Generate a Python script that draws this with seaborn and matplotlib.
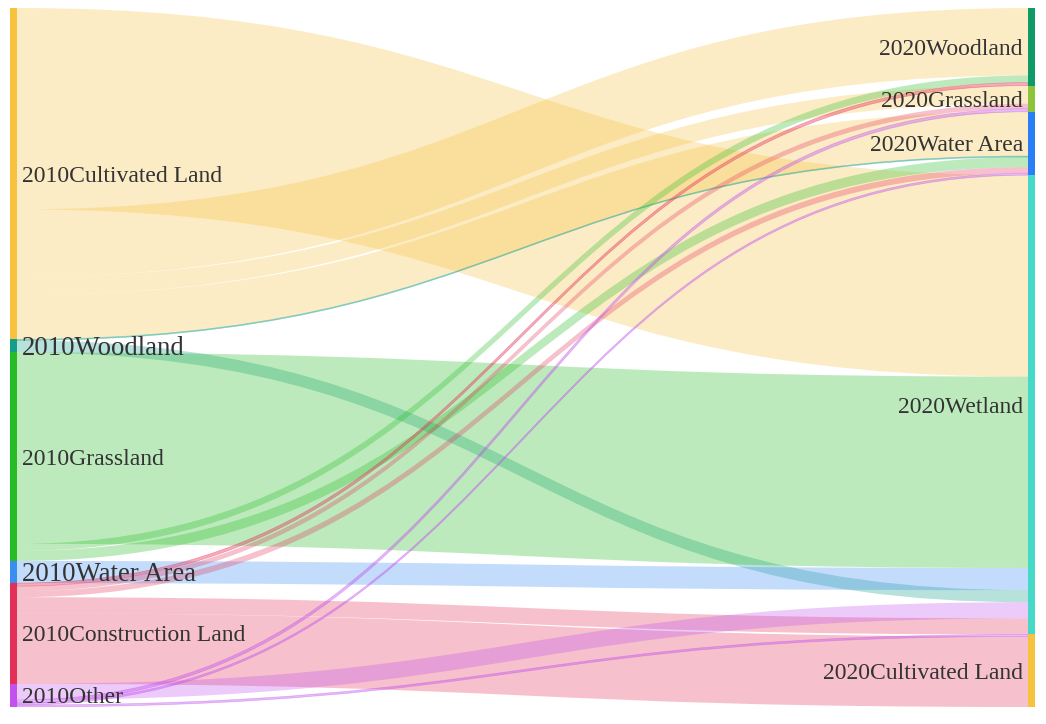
import numpy as np
import matplotlib
matplotlib.use("Agg")
import matplotlib.pyplot as plt
from matplotlib.path import Path
from matplotlib.patches import PathPatch, Rectangle
import seaborn as sns

# nodes
sources = ["2010Cultivated Land", "2010Woodland", "2010Grassland",
           "2010Water Area", "2010Construction Land", "2010Other"]
targets = ["2020Woodland", "2020Grassland", "2020Water Area",
           "2020Wetland", "2020Cultivated Land"]
source_colors = ["#F8C23F", "#129E88", "#26BC26", "#3A8EF2", "#E43058", "#C251EE"]
target_colors = ["#109A68", "#8CC43C", "#2B7FF6", "#46D9C7", "#F6C33F"]
source_fontsize = [17, 19.3, 17, 19.3, 17, 17]

# links, listed in the order they leave each 2010 node (top to bottom)
link_src = [0, 0, 0, 0, 1, 1, 2, 2, 2, 3, 4, 4, 4, 4, 4, 5, 5, 5, 5]
link_tgt = [3, 0, 1, 2, 2, 3, 3, 0, 2, 3, 0, 1, 2, 3, 4, 3, 1, 2, 4]
link_val = [200, 67, 18, 44, 1, 12, 190, 7, 10, 22, 3, 5, 6, 16, 70, 16, 3, 2, 2]

# order in which links arrive at each 2020 node (source index, top to bottom)
target_order = [[0, 2, 4], [0, 4, 5], [0, 1, 2, 4, 5], [0, 2, 3, 1, 5, 4], [5, 4]]

sns.set_theme(style="white")

fig = plt.figure(figsize=(10.46, 7.24), dpi=100)
ax = fig.add_axes([10 / 1046, 17 / 724, 1025 / 1046, 699 / 724])

node_w = 7
x_left, x_right = 0, 1025 - node_w

src_tot = np.zeros(len(sources))
tgt_tot = np.zeros(len(targets))
for s, t, v in zip(link_src, link_tgt, link_val):
    src_tot[s] += v
    tgt_tot[t] += v
total = src_tot.sum()

src_y0 = np.concatenate([[0], np.cumsum(src_tot)[:-1]])
tgt_y0 = np.concatenate([[0], np.cumsum(tgt_tot)[:-1]])

# stacking offsets on the left
src_pos = {}
cursor = src_y0.copy()
for i, (s, t, v) in enumerate(zip(link_src, link_tgt, link_val)):
    src_pos[i] = cursor[s]
    cursor[s] += v

# stacking offsets on the right
tgt_pos = {}
for t, order in enumerate(target_order):
    y = tgt_y0[t]
    for s in order:
        for i, (ls, lt, v) in enumerate(zip(link_src, link_tgt, link_val)):
            if ls == s and lt == t:
                tgt_pos[i] = y
                y += v

x0 = x_left + node_w
x1 = x_right
xm = (x0 + x1) / 2
for i, (s, t, v) in enumerate(zip(link_src, link_tgt, link_val)):
    a0, b0 = src_pos[i], src_pos[i] + v
    a1, b1 = tgt_pos[i], tgt_pos[i] + v
    verts = [(x0, a0), (xm, a0), (xm, a1), (x1, a1),
             (x1, b1), (xm, b1), (xm, b0), (x0, b0), (x0, a0)]
    codes = [Path.MOVETO, Path.CURVE4, Path.CURVE4, Path.CURVE4,
             Path.LINETO, Path.CURVE4, Path.CURVE4, Path.CURVE4, Path.CLOSEPOLY]
    if v <= 3:
        # thin links would vanish without an outline
        ax.add_patch(PathPatch(Path(verts, codes), facecolor=source_colors[s],
                               edgecolor=source_colors[s], lw=0.5, alpha=0.4))
    else:
        ax.add_patch(PathPatch(Path(verts, codes), facecolor=source_colors[s],
                               lw=0, alpha=0.3))

# nodes and labels
for k, name in enumerate(sources):
    ax.add_patch(Rectangle((x_left, src_y0[k]), node_w, src_tot[k],
                           color=source_colors[k], lw=0))
    ax.text(x_left + 12, src_y0[k] + src_tot[k] / 2 + 2.5, name, ha="left", va="center",
            fontsize=source_fontsize[k], family="Liberation Serif", color="#333333")

for k, name in enumerate(targets):
    ax.add_patch(Rectangle((x_right, tgt_y0[k]), node_w, tgt_tot[k],
                           color=target_colors[k], lw=0))
    ax.text(x_right - 5, tgt_y0[k] + tgt_tot[k] / 2 + 2.5, name, ha="right", va="center",
            fontsize=17, family="Liberation Serif", color="#333333")

ax.set_xlim(0, 1025)
ax.set_ylim(total, 0)
ax.axis("off")

fig.savefig("out.png", dpi=100)
